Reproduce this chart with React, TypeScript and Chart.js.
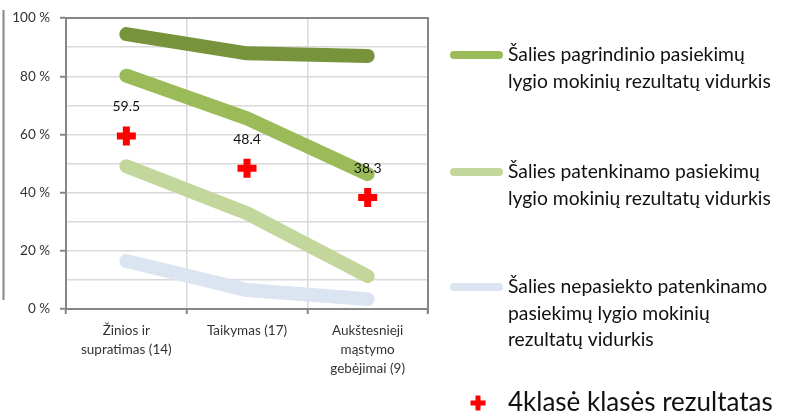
import React, { useEffect, useRef } from "react";
import { Chart, registerables } from "chart.js";

Chart.register(...registerables);

const categories: string[][] = [
  ["Žinios ir", "supratimas (14)"],
  ["Taikymas (17)"],
  ["Aukštesnieji", "mąstymo", "gebėjimai (9)"],
];

const highLevel = [94.5, 87.9, 87.0];
const basicLevel = [80.2, 65.5, 46.4];
const satisfactoryLevel = [49.1, 32.9, 11.3];
const belowSatisfactory = [16.5, 6.5, 3.4];
const classResult = [59.5, 48.4, 38.3];

const yTicks = [0, 20, 40, 60, 80, 100];

const legendBasic = ["Šalies pagrindinio pasiekimų", "lygio mokinių rezultatų vidurkis"];
const legendSatisfactory = ["Šalies patenkinamo pasiekimų", "lygio mokinių rezultatų vidurkis"];
const legendBelow = ["Šalies nepasiekto patenkinamo", "pasiekimų lygio mokinių", "rezultatų vidurkis"];
const legendClass = "4klasė klasės rezultatas";

const FONT = "Lato, 'Noto Sans', sans-serif";
const AXIS = "#868686";
const GRID = "#d9d9d9";

const decorPlugin = {
  id: "decor",
  beforeDatasetsDraw(chart: any) {
    const { ctx, chartArea } = chart;
    ctx.save();
    ctx.strokeStyle = AXIS;
    ctx.lineWidth = 2;
    ctx.beginPath();
    ctx.moveTo(chartArea.left, chartArea.top);
    ctx.lineTo(chartArea.right, chartArea.top);
    ctx.lineTo(chartArea.right, chartArea.bottom + 4);
    ctx.stroke();
    ctx.beginPath();
    ctx.moveTo(3.5, 10);
    ctx.lineTo(3.5, 300);
    ctx.stroke();
    ctx.restore();
  },
  afterDatasetsDraw(chart: any) {
    const { ctx } = chart;
    const meta = chart.getDatasetMeta(4);
    ctx.save();
    ctx.font = `14px ${FONT}`;
    ctx.fillStyle = "#111";
    ctx.textAlign = "center";
    ctx.textBaseline = "middle";
    meta.data.forEach((pt: any, i: number) => {
      ctx.fillText(classResult[i].toFixed(1), pt.x, pt.y - 29);
    });
    ctx.restore();
  },
  afterDraw(chart: any) {
    const { ctx } = chart;
    ctx.save();
    const items = [
      { lines: legendBasic, color: "#9bbb59", y: 55 },
      { lines: legendSatisfactory, color: "#c3d69b", y: 172 },
      { lines: legendBelow, color: "#dbe5f1", y: 287 },
    ];
    ctx.textAlign = "left";
    ctx.textBaseline = "middle";
    ctx.font = `19.3px ${FONT}`;
    ctx.fillStyle = "#111";
    items.forEach((it) => {
      ctx.strokeStyle = it.color;
      ctx.lineWidth = 8;
      ctx.lineCap = "round";
      ctx.beginPath();
      ctx.moveTo(454, it.y);
      ctx.lineTo(499, it.y);
      ctx.stroke();
      it.lines.forEach((ln, k) => ctx.fillText(ln, 508, it.y + k * 26.5));
    });
    ctx.fillStyle = "#ff0000";
    const cx = 478, cy = 403;
    ctx.fillRect(cx - 7.5, cy - 2.5, 15, 5);
    ctx.fillRect(cx - 2.5, cy - 7.5, 5, 15);
    ctx.fillStyle = "#111";
    ctx.font = `26px ${FONT}`;
    ctx.fillText(legendClass, 508, 403);
    ctx.restore();
  },
};

export default function App() {
  const ref = useRef<HTMLCanvasElement | null>(null);
  useEffect(() => {
    if (!ref.current) return;
    const chart = new Chart(ref.current, {
      type: "line",
      data: {
        labels: categories as any,
        datasets: [
          { label: "high", data: highLevel, borderColor: "#77933c" },
          { label: legendBasic.join(" "), data: basicLevel, borderColor: "#9bbb59" },
          { label: legendSatisfactory.join(" "), data: satisfactoryLevel, borderColor: "#c3d69b" },
          { label: legendBelow.join(" "), data: belowSatisfactory, borderColor: "#dbe5f1" },
          {
            label: legendClass,
            data: classResult,
            showLine: false,
            pointStyle: "cross",
            pointRadius: 9.5,
            pointBorderWidth: 7,
            pointBorderColor: "#ff0000",
            pointBackgroundColor: "#ff0000",
            borderColor: "#ff0000",
          } as any,
        ].map((d: any, i) =>
          i < 4
            ? {
                ...d,
                borderWidth: 14,
                borderCapStyle: "round",
                borderJoinStyle: "round",
                pointRadius: 0,
                tension: 0,
                fill: false,
              }
            : d
        ),
      },
      options: {
        animation: false,
        responsive: false,
        layout: { padding: { top: 18, right: 365, left: 0, bottom: 0 } },
        plugins: { legend: { display: false }, tooltip: { enabled: false } },
        scales: {
          x: {
            offset: true,
            grid: {
              offset: true,
              color: GRID,
              lineWidth: 1.5,
              tickLength: 5,
              tickColor: AXIS,
              tickWidth: 2,
            },
            border: { color: AXIS, width: 2 },
            ticks: {
              autoSkip: false,
              maxRotation: 0,
              padding: 7,
              color: "#333",
              font: { family: FONT, size: 13.5, lineHeight: 19 / 13.5 },
            },
            afterFit: (s: any) => {
              s.height = 108;
            },
          },
          y: {
            min: 0,
            max: 100,
            grid: {
              color: GRID,
              lineWidth: 1.5,
              tickLength: 6,
              tickWidth: 2,
              tickColor: (c: any) =>
                c.tick && yTicks.includes(c.tick.value) ? AXIS : "rgba(0,0,0,0)",
            },
            border: { color: AXIS, width: 2 },
            ticks: {
              stepSize: 10,
              padding: 10,
              color: "#333",
              font: { family: FONT, size: 13.5 },
              callback: (v: any) => (yTicks.includes(Number(v)) ? `${v} %` : ""),
            },
            afterFit: (s: any) => {
              s.width = 66;
            },
          },
        },
      },
      plugins: [decorPlugin],
    });
    return () => chart.destroy();
  }, []);
  return (
    <div style={{ position: "fixed", left: 0, top: 0, width: 793, height: 417, background: "#fff" }}>
      <canvas ref={ref} width={793} height={417} style={{ display: "block" }} />
    </div>
  );
}
